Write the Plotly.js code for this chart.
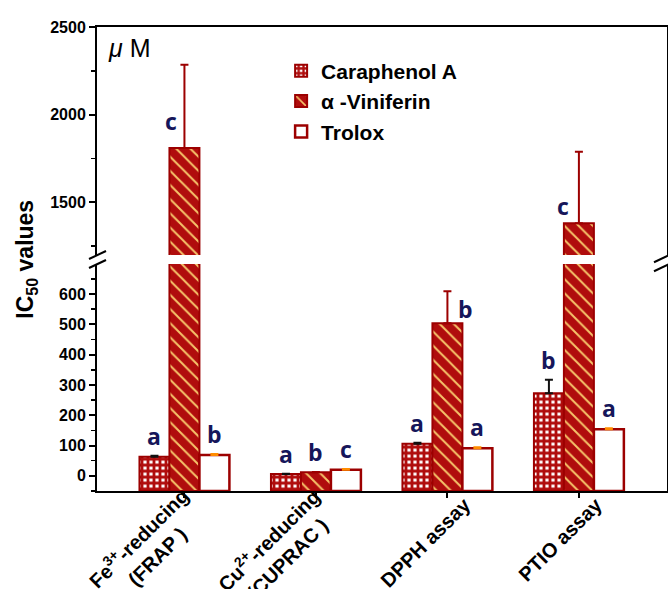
<!DOCTYPE html>
<html>
<head>
<meta charset="utf-8">
<script src="https://cdn.plot.ly/plotly-3.0.1.min.js"></script>
<style>html,body{margin:0;padding:0;background:#fff;}</style>
</head>
<body>
<div id="chart" style="width:668px;height:589px;"></div>
<script>
// ---- data ----
const categories = ['Fe<sup>3+</sup>-reducing<br>(FRAP )', 'Cu<sup>2+</sup>-reducing<br>(CUPRAC )', 'DPPH assay', 'PTIO assay'];
const seriesNames = ['Caraphenol A', 'α -Viniferin', 'Trolox'];
const caraphenolA = [63, 6, 106, 273];
const caraphenolErr = [3, 1, 3, 44];
const viniferin = [1810, 12, 504, 1381];
const viniferinErr = [475, 1, 105, 408];
const trolox = [69, 20, 91, 154];
const troloxErr = [3, 3, 3, 3];
const caraphenolLetters = ['a', 'a', 'a', 'b'];
const viniferinLetters = ['c', 'b', 'b', 'c'];
const troloxLetters = ['b', 'c', 'a', 'a'];

// ---- style ----
const RED = '#b00d0d';
const EDGE = '#9c0000';
const STRIPE = '#f6c46a';
const NAVY = '#16165a';
const LOWER = [-50, 699];
const UPPER = [1200, 2500];
const BASE = LOWER[0];
const BARGAP = 0.316;
const AX = 'Liberation Sans, Arial, sans-serif';
const XFS = 20;

const xIdx = categories.map((_, i) => i);
const series = [
  {name: seriesNames[0], v: caraphenolA, e: caraphenolErr, L: caraphenolLetters, ecol: '#111111',
   marker: {color: RED, line: {color: EDGE, width: 2},
            pattern: {shape: '+', fgcolor: RED, bgcolor: '#ffffff', size: 6, solidity: 0.72, fillmode: 'replace'}}},
  {name: seriesNames[1], v: viniferin, e: viniferinErr, L: viniferinLetters, ecol: EDGE,
   marker: {color: RED, line: {color: EDGE, width: 2},
            pattern: {shape: '\\', fgcolor: STRIPE, bgcolor: RED, size: 10, solidity: 0.2, fillmode: 'replace'}}},
  {name: seriesNames[2], v: trolox, e: troloxErr, L: troloxLetters, ecol: '#ff8c00',
   marker: {color: '#ffffff', line: {color: EDGE, width: 2.5}}}
];

const traces = [];
[['x', 'y', true], ['x2', 'y2', false]].forEach(([xa, ya, leg]) => {
  series.forEach(s => {
    traces.push({
      type: 'bar', name: s.name, x: xIdx,
      y: s.v.map(v => v - BASE), base: BASE,
      xaxis: xa, yaxis: ya, showlegend: leg, marker: s.marker,
      error_y: {type: 'data', symmetric: false, array: s.e, arrayminus: s.e.map(() => 0),
                color: s.ecol, thickness: 2, width: 4},
      hoverinfo: 'skip'
    });
  });
});

// letter labels
const barW = (1 - BARGAP) / 3;
const sideShift = {'1-0': [-13, 9], '1-2': [18, -4], '1-3': [-16, -1]}; // style: letters beside tall error bars
const annotations = [];
series.forEach((s, si) => {
  s.v.forEach((v, gi) => {
    const key = si + '-' + gi;
    const side = sideShift[key];
    const top = side ? v : v + s.e[gi];
    annotations.push({
      x: gi + (si - 1) * barW, xref: 'x',
      y: top, yref: top > LOWER[1] ? 'y2' : 'y',
      text: s.L[gi], showarrow: false, xanchor: 'center', yanchor: 'bottom',
      xshift: side ? side[0] : 0, yshift: side ? side[1] : 2,
      font: {family: 'Open Sans, sans-serif', size: 23, color: NAVY, weight: 'bold'}
    });
  });
});
// rotated category labels
categories.forEach((c, i) => {
  const n = c.split('<br>').length;
  annotations.push({
    x: i, xref: 'x', y: 0, yref: 'paper', text: c, textangle: -45, align: 'center',
    showarrow: false, xanchor: 'right', yanchor: 'top',
    xshift: 33 - 2 * n, yshift: 10 * n - 9,
    font: {family: AX, size: XFS, color: '#000', weight: 'bold'}
  });
});
annotations.push({
  xref: 'paper', yref: 'paper', x: -0.125, y: 0.5, textangle: -90,
  text: 'IC<sub>50</sub> values', showarrow: false, xanchor: 'center', yanchor: 'middle',
  font: {family: AX, size: 23, color: '#000', weight: 'bold'}
});
annotations.push({
  xref: 'paper', yref: 'paper', x: 0.016, y: 0.955, xanchor: 'left', yanchor: 'middle',
  text: '<i>μ</i> M', showarrow: false,
  font: {family: AX, size: 25, color: '#000'}
});

// axis-break marks
function brk(xa, ya, dx0, dx1) {
  const out = [];
  [[0, 8], [-9, -1]].forEach(([y0, y1]) => {
    out.push({type: 'line', xref: 'paper', yref: 'paper', xsizemode: 'pixel', ysizemode: 'pixel',
      xanchor: xa, yanchor: ya, x0: dx0, x1: dx1, y0: y0, y1: y1,
      line: {color: '#000', width: 2}});
  });
  return out;
}
const shapes = [].concat(brk(0, 0.5, -8, 9), brk(1, 0.493, -13, 4));

function yAxis(extra) {
  return Object.assign({
    showline: true, linecolor: '#000', linewidth: 2, mirror: true,
    ticks: 'outside', ticklen: 6, tickwidth: 2, tickcolor: '#000',
    showgrid: false, zeroline: false, tickmode: 'linear', tick0: 0,
    tickfont: {family: AX, size: 16, color: '#000', weight: 'bold'}
  }, extra);
}

const layout = {
  width: 668, height: 589,
  margin: {l: 97, r: 1, t: 27, b: 98},
  paper_bgcolor: '#fff', plot_bgcolor: '#fff',
  barmode: 'group', bargap: BARGAP, bargroupgap: 0,
  showlegend: true,
  legend: {x: 0.323, y: 0.949, xanchor: 'left', yanchor: 'top', bgcolor: 'rgba(0,0,0,0)',
    font: {family: AX, size: 21, color: '#000', weight: 'bold'}, traceorder: 'normal'},
  xaxis: {range: [-0.665, 3.67], tickmode: 'array', tickvals: xIdx, showticklabels: false,
    showline: true, linecolor: '#000', linewidth: 2, ticks: 'outside',
    ticklen: 5, tickwidth: 2, tickcolor: '#000', showgrid: false, zeroline: false, anchor: 'y'},
  xaxis2: {matches: 'x', anchor: 'y2', side: 'top', showline: true, linecolor: '#000', linewidth: 2,
    showticklabels: false, ticks: '', showgrid: false, zeroline: false},
  yaxis: yAxis({domain: [0, 0.489], range: LOWER, dtick: 100,
    minor: {dtick: 50, ticks: 'outside', ticklen: 4, tickwidth: 1.5, tickcolor: '#000', showgrid: false}}),
  yaxis2: yAxis({domain: [0.5086, 1], range: UPPER, dtick: 500, anchor: 'x2',
    minor: {dtick: 250, ticks: 'outside', ticklen: 4, tickwidth: 1.5, tickcolor: '#000', showgrid: false}}),
  annotations: annotations,
  shapes: shapes
};

Plotly.newPlot('chart', traces, layout, {displayModeBar: false, staticPlot: true});
</script>
</body>
</html>
